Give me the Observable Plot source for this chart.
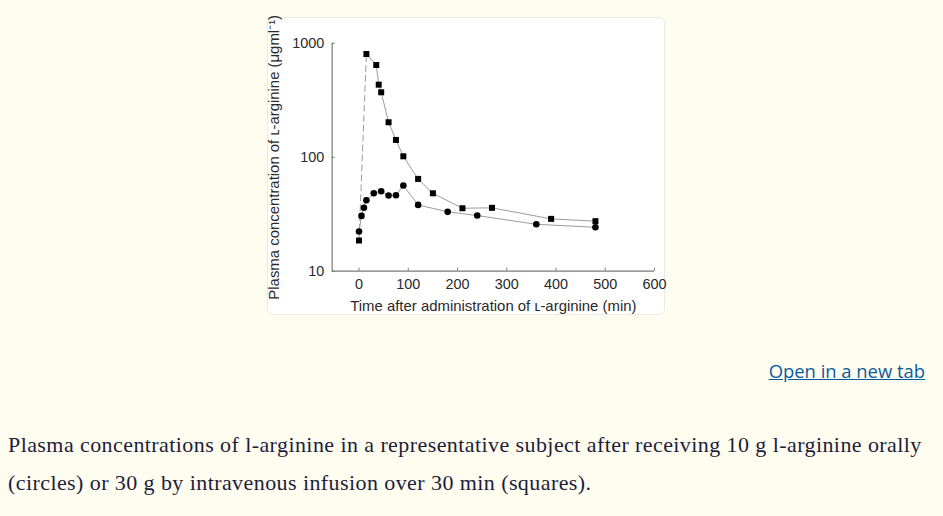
<!DOCTYPE html>
<html>
<head>
<meta charset="utf-8">
<script src="https://cdn.jsdelivr.net/npm/d3@7"></script>
<script src="https://cdn.jsdelivr.net/npm/@observablehq/plot@0.6"></script>
<style>
  html, body { margin: 0; padding: 0; background: #fffdf0; width: 943px; height: 516px; overflow: hidden; }
  #box { position: absolute; left: 267px; top: 17px; width: 398px; height: 298px; background: #fff;
         border: 1px solid #ecebe2; border-radius: 6px; box-sizing: border-box; overflow: visible; }
  #box svg { position: absolute; left: -1px; top: -1px; overflow: visible; }
  #link { position: absolute; right: 18px; top: 358px; font-family: "Open Sans", "Noto Sans", sans-serif;
          font-size: 18.4px; line-height: 26px; color: #0b5a9e; text-decoration: underline; }
  #caption { position: absolute; left: 8px; top: 426px; width: 934px; font-family: "Liberation Serif", "DejaVu Serif", serif;
             font-size: 22px; letter-spacing: 0.42px; line-height: 38px; color: #1d1d3b; white-space: nowrap; }
</style>
</head>
<body>
<div id="box"></div>
<div id="link">Open in a new tab</div>
<div id="caption">Plasma concentrations of l-arginine in a representative subject after receiving 10 g l-arginine orally<br>(circles) or 30 g by intravenous infusion over 30 min (squares).</div>
<script>
// Intravenous infusion, 30 g (squares)
const timeIV = [0, 15, 35, 40, 45, 60, 75, 90, 120, 150, 210, 270, 390, 480];
const concIV = [18.6, 807, 646, 434, 372, 203, 142, 102, 64.6, 48.3, 35.7, 36, 28.8, 27.5];
// Oral, 10 g (circles)
const timeOral = [0, 5, 10, 15, 30, 45, 60, 75, 90, 120, 180, 240, 360, 480];
const concOral = [22.3, 30.6, 36, 42, 48.3, 50.3, 46.2, 46.4, 56.5, 38.2, 33.2, 30.8, 25.8, 24.3];
// Axes
const xTicks = [0, 100, 200, 300, 400, 500, 600];
const yTicks = [10, 100, 1000];
const xDomain = [-54.5, 600];
const yDomain = [10, 1000];
const xLabel = "Time after administration of ʟ-arginine (min)";
const yLabel = "Plasma concentration of ʟ-arginine (μgml⁻¹)";

const iv = timeIV.map((t, i) => ({t, c: concIV[i]}));
const oral = timeOral.map((t, i) => ({t, c: concOral[i]}));
const ivRise = iv.slice(0, 2);
const ivDecay = iv.slice(1);

const axisColor = "#7a7a7a";
const lineColor = "#9a9a9a";
const font = "'Liberation Sans', Arial, sans-serif";

const chart = Plot.plot({
  width: 398,
  height: 298,
  marginLeft: 65,
  marginRight: 9,
  marginTop: 26,
  marginBottom: 43,
  style: {background: "transparent", fontFamily: font, fontSize: "14.5px", color: "#333", overflow: "visible"},
  x: {domain: xDomain},
  y: {type: "log", domain: yDomain},
  marks: [
    Plot.ruleY([yDomain[0]], {stroke: axisColor, strokeWidth: 1.2}),
    Plot.ruleX([xDomain[0]], {stroke: axisColor, strokeWidth: 1.2}),
    Plot.axisX({ticks: xTicks, tickSize: -3, tickPadding: 11, stroke: axisColor, tickFormat: d => String(d),
                fontSize: 14.5, fontFamily: font, fill: "#2a2a2a", label: null}),
    Plot.axisX({ticks: [], tickSize: 0, fontSize: 15, fontFamily: font, fill: "#2a2a2a",
                label: xLabel, labelAnchor: "center", labelOffset: 40, labelArrow: "none"}),
    Plot.axisY({ticks: yTicks, tickSize: -3, tickPadding: 11, stroke: axisColor, tickFormat: d => String(d),
                fontSize: 14.5, fontFamily: font, fill: "#2a2a2a", label: null}),
    Plot.axisY({ticks: [], tickSize: 0, fontSize: 15, fontFamily: font, fill: "#2a2a2a",
                label: yLabel, labelAnchor: "center", labelOffset: 64, labelArrow: "none"}),
    Plot.line(ivRise, {x: "t", y: "c", stroke: lineColor, strokeWidth: 1, strokeDasharray: "6,4"}),
    Plot.line(ivDecay, {x: "t", y: "c", stroke: lineColor, strokeWidth: 1}),
    Plot.line(oral, {x: "t", y: "c", stroke: lineColor, strokeWidth: 1}),
    Plot.dot(iv, {x: "t", y: "c", symbol: "square", r: 3.4, fill: "#000", stroke: "none"}),
    Plot.dot(oral, {x: "t", y: "c", symbol: "circle", r: 3.3, fill: "#000", stroke: "none"})
  ]
});
document.getElementById("box").appendChild(chart);
</script>
</body>
</html>
